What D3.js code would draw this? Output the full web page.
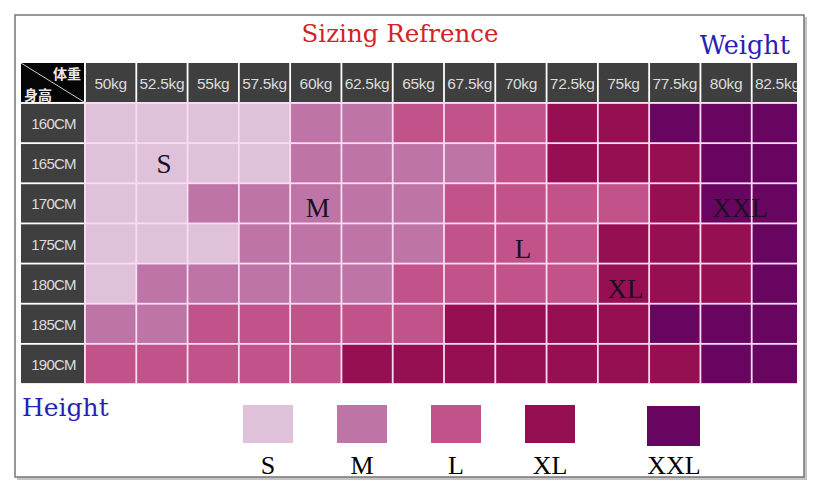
<!DOCTYPE html>
<html>
<head>
<meta charset="utf-8">
<script src="https://cdn.jsdelivr.net/npm/d3@7"></script>
<style>
  html, body { margin: 0; padding: 0; background: #fff; }
  svg { display: block; }
</style>
</head>
<body>
<script>
'use strict';

var width = 820;
var height = 494;

// column / row labels
var weights = ["50kg", "52.5kg", "55kg", "57.5kg", "60kg", "62.5kg", "65kg",
  "67.5kg", "70kg", "72.5kg", "75kg", "77.5kg", "80kg", "82.5kg"];
var heights = ["160CM", "165CM", "170CM", "175CM", "180CM", "185CM", "190CM"];
var sizes = ["S", "M", "L", "XL", "XXL"];

// size for each height (row) x weight (column)
var row160 = ["S", "S", "S", "S", "M", "M", "L", "L", "L", "XL", "XL", "XXL", "XXL", "XXL"];
var row165 = ["S", "S", "S", "S", "M", "M", "M", "M", "L", "XL", "XL", "XL", "XXL", "XXL"];
var row170 = ["S", "S", "M", "M", "M", "M", "M", "L", "L", "L", "L", "XL", "XXL", "XXL"];
var row175 = ["S", "S", "S", "M", "M", "M", "M", "L", "L", "L", "XL", "XL", "XL", "XXL"];
var row180 = ["S", "M", "M", "M", "M", "M", "L", "L", "L", "L", "XL", "XL", "XL", "XXL"];
var row185 = ["M", "M", "L", "L", "L", "L", "L", "XL", "XL", "XL", "XL", "XXL", "XXL", "XXL"];
var row190 = ["L", "L", "L", "L", "L", "XL", "XL", "XL", "XL", "XL", "XL", "XL", "XXL", "XXL"];
var sizeRows = [row160, row165, row170, row175, row180, row185, row190];

// where the big size letters sit on the grid
var markSize   = ["S", "M", "L", "XL", "XXL"];
var markHeight = ["165CM", "170CM", "175CM", "180CM", "170CM"];
var markWeight = ["52.5kg", "60kg", "70kg", "75kg", "80kg"];

var svg = d3.select("body").append("svg")
  .attr("width", width)
  .attr("height", height);

// frame with a soft shadow
svg.append("rect")
  .attr("x", 17).attr("y", 17).attr("width", 790).attr("height", 463)
  .attr("fill", "#c4c4c4");
svg.append("rect")
  .attr("x", 15).attr("y", 15).attr("width", 789).attr("height", 462)
  .attr("fill", "#fff").attr("stroke", "#767676").attr("stroke-width", 1.5);

var x = d3.scaleBand().domain(weights).range([85, 803]).paddingInner(0);
var y = d3.scaleBand().domain(heights).range([103, 384]).paddingInner(0);
var color = d3.scaleOrdinal().domain(sizes)
  .range(["#dfc1d9", "#be74a7", "#c1528a", "#950f52", "#680560"]);

var gap = 1.8;
var headTop = 63, headBottom = 102;
var leftCol = 21, leftColEnd = 84;
var sans = "Liberation Sans, Arial, sans-serif";
var serif = "Liberation Serif, Times New Roman, serif";
var titleSerif = "DejaVu Serif, serif";

svg.append("defs").append("clipPath").attr("id", "gridclip")
  .append("rect").attr("x", 0).attr("y", 0).attr("width", 797).attr("height", height);

var grid = svg.append("g").attr("clip-path", "url(#gridclip)");

// pinkish white lines between cells
grid.append("rect")
  .attr("x", x.range()[0] - gap).attr("y", y.range()[0] - gap)
  .attr("width", x.range()[1] - x.range()[0] + gap)
  .attr("height", y.range()[1] - y.range()[0] + gap)
  .attr("fill", "#f8dcf2");

// body cells
var cells = [];
sizeRows.forEach(function(r, i){
  r.forEach(function(s, j){
    cells.push({ h: heights[i], w: weights[j], size: s });
  });
});

grid.selectAll("rect.cell").data(cells).enter().append("rect")
  .attr("class", "cell")
  .attr("x", function(d){ return x(d.w) + gap / 2; })
  .attr("y", function(d){ return y(d.h) + gap / 2; })
  .attr("width", x.bandwidth() - gap)
  .attr("height", y.bandwidth() - gap)
  .attr("fill", function(d){ return color(d.size); });

// weight header row
var head = grid.selectAll("g.whead").data(weights).enter().append("g").attr("class", "whead");
head.append("rect")
  .attr("x", function(d){ return x(d) + gap / 2; })
  .attr("y", headTop)
  .attr("width", x.bandwidth() - gap)
  .attr("height", headBottom - headTop)
  .attr("fill", "#3f3f3f");
head.append("text")
  .attr("x", function(d){ return x(d) + x.bandwidth() / 2; })
  .attr("y", (headTop + headBottom) / 2 + 6)
  .attr("text-anchor", "middle")
  .attr("font-family", sans)
  .attr("font-size", 15.5)
  .attr("letter-spacing", -0.3)
  .attr("fill", "#dcdcdc")
  .text(function(d){ return d; });

// height header column
var side = svg.selectAll("g.hhead").data(heights).enter().append("g").attr("class", "hhead");
side.append("rect")
  .attr("x", leftCol)
  .attr("y", function(d){ return y(d) + gap / 2; })
  .attr("width", leftColEnd - leftCol)
  .attr("height", y.bandwidth() - gap)
  .attr("fill", "#3f3f3f");
side.append("text")
  .attr("x", (leftCol + leftColEnd) / 2 + 1)
  .attr("y", function(d){ return y(d) + y.bandwidth() / 2 + 6; })
  .attr("text-anchor", "middle")
  .attr("font-family", sans)
  .attr("font-size", 15)
  .attr("letter-spacing", -0.8)
  .attr("fill", "#dcdcdc")
  .text(function(d){ return d; });

// corner cell
svg.append("rect")
  .attr("x", leftCol).attr("y", headTop)
  .attr("width", leftColEnd - leftCol).attr("height", headBottom - headTop)
  .attr("fill", "#050505");
svg.append("line")
  .attr("x1", leftCol).attr("y1", headTop)
  .attr("x2", leftColEnd).attr("y2", headBottom)
  .attr("stroke", "#cfcfcf").attr("stroke-width", 1);
svg.append("text")
  .attr("x", 81).attr("y", 79)
  .attr("text-anchor", "end")
  .attr("font-family", "Noto Sans CJK SC, sans-serif")
  .attr("font-weight", "bold")
  .attr("font-size", 14)
  .attr("fill", "#e8e8e8")
  .text("体重");
svg.append("text")
  .attr("x", 24).attr("y", 100)
  .attr("font-family", "Noto Sans CJK SC, sans-serif")
  .attr("font-weight", "bold")
  .attr("font-size", 14)
  .attr("fill", "#e8e8e8")
  .text("身高");

// big size letters over the grid
var marks = markSize.map(function(s, i){
  return { size: s, h: markHeight[i], w: markWeight[i] };
});
svg.selectAll("text.mark").data(marks).enter().append("text")
  .attr("class", "mark")
  .attr("x", function(d){
    var cx = x(d.w) + x.bandwidth() / 2;
    return d.size === "XXL" ? cx + 14 : cx + 2;
  })
  .attr("y", function(d){
    var cy = y(d.h) + y.bandwidth() / 2;
    return d.size === "S" ? cy + 10 : cy + 14;
  })
  .attr("text-anchor", "middle")
  .attr("font-family", serif)
  .attr("font-size", 27)
  .attr("fill", "#1a1020")
  .text(function(d){ return d.size; });

// titles
svg.append("text")
  .attr("x", 400).attr("y", 42)
  .attr("text-anchor", "middle")
  .attr("font-family", titleSerif)
  .attr("font-size", 24.5)
  .attr("fill", "#d42322")
  .text("Sizing Refrence");
svg.append("text")
  .attr("x", 790).attr("y", 54)
  .attr("text-anchor", "end")
  .attr("font-family", titleSerif)
  .attr("font-size", 25.5)
  .attr("fill", "#2b1fb3")
  .text("Weight");
svg.append("text")
  .attr("x", 22).attr("y", 416)
  .attr("font-family", titleSerif)
  .attr("font-size", 25)
  .attr("fill", "#2b1fb3")
  .text("Height");

// legend: first four evenly spaced, XXL set a little further out
var legendX = d3.scalePoint().domain(sizes.slice(0, 4)).range([268, 550]);
var legendPos = function(s){ return s === "XXL" ? legendX("XL") + 124 : legendX(s); };
var legend = svg.selectAll("g.legend").data(sizes).enter().append("g").attr("class", "legend");
legend.append("rect")
  .attr("x", function(d){ return legendPos(d) - (d === "XXL" ? 27 : 25); })
  .attr("y", function(d){ return d === "XXL" ? 406 : 405; })
  .attr("width", function(d){ return d === "XXL" ? 53 : 50; })
  .attr("height", function(d){ return d === "XXL" ? 40 : 38; })
  .attr("fill", function(d){ return color(d); });
legend.append("text")
  .attr("x", function(d){ return legendPos(d); })
  .attr("y", 474)
  .attr("text-anchor", "middle")
  .attr("font-family", serif)
  .attr("font-size", 26)
  .attr("fill", "#000")
  .text(function(d){ return d; });
</script>
</body>
</html>
